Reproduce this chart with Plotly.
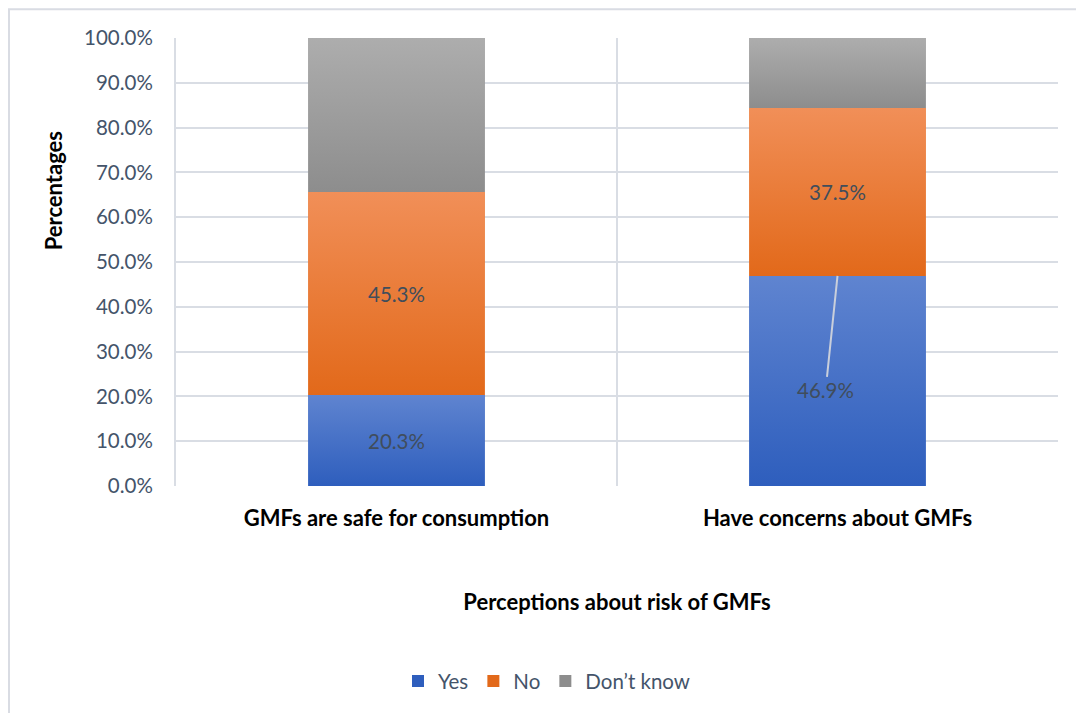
import plotly.graph_objects as go

# Survey responses (% of respondents) per perception statement
categories = ["GMFs are safe for consumption", "Have concerns about GMFs"]
series_names = ["Yes", "No", "Don\u2019t know"]
yes = [20.3, 46.9]
no = [45.3, 37.5]
dont_know = [34.4, 15.6]
y_ticks = [0, 10, 20, 30, 40, 50, 60, 70, 80, 90, 100]

# Light / dark ends of each series' vertical gradient
colors = {
    "Yes": ("#5f84d0", "#2e5ebd"),
    "No": ("#f18f58", "#e2691a"),
    "Don\u2019t know": ("#adadad", "#8d8d8d"),
}
label_series = {"Yes", "No"}

BAR_W = 0.4
FONT = "Lato"
TICK_COLOR = "#44546a"
GRID = "#d9dde4"
REG = 20.5
BOLD = 22

fig = go.Figure()
xs = list(range(len(categories)))
values = {"Yes": yes, "No": no, "Don\u2019t know": dont_know}

bases = [0.0] * len(categories)
annotations = []
for name in series_names:
    vals = values[name]
    light, dark = colors[name]
    fig.add_trace(go.Bar(
        x=xs, y=vals, base=bases, name=name, width=BAR_W,
        marker=dict(color=dark, line=dict(width=0)),
        hoverinfo="skip",
    ))
    # gradient overlay for each bar segment
    for i, (b, v) in enumerate(zip(bases, vals)):
        x0, x1 = xs[i] - BAR_W / 2, xs[i] + BAR_W / 2
        fig.add_trace(go.Scatter(
            x=[x0, x1, x1, x0, x0], y=[b, b, b + v, b + v, b],
            mode="none", fill="toself", showlegend=False, hoverinfo="skip",
            fillgradient=dict(type="vertical",
                              colorscale=[[0, dark], [1, light]]),
        ))
        if name in label_series:
            annotations.append((i, b, v))
    bases = [b + v for b, v in zip(bases, vals)]

label_font = dict(family=FONT, size=REG, color="#404d5c")
for i, b, v in annotations:
    mid = b + v / 2
    if i == 1 and b == 0:
        # label pulled down inside the bar with a leader line to its top
        fig.add_annotation(
            x=xs[i], y=b + v, xref="x", yref="y",
            ax=xs[i] - 0.027, ay=b + v * 0.455, axref="x", ayref="y",
            text=f"{v:.1f}%", showarrow=True, arrowhead=0,
            arrowwidth=2, arrowcolor="#c9cfdb", font=label_font,
        )
    else:
        fig.add_annotation(x=xs[i], y=mid, xref="x", yref="y",
                           text=f"{v:.1f}%", showarrow=False, font=label_font)

# vertical axis title, placed in the upper half like the source layout
fig.add_annotation(
    text="Percentages", xref="paper", yref="paper",
    x=(53 - 176) / 882, y=(488 - 192) / 450,
    xanchor="center", yanchor="middle", textangle=-90, showarrow=False,
    font=dict(family=FONT, size=BOLD, color="black", weight="bold"),
)

# outer chart frame
fig.add_shape(type="rect", xref="paper", yref="paper",
              x0=(9 - 176) / 882, x1=(1090 - 176) / 882,
              y0=(488 - 730) / 450, y1=(488 - 9) / 450,
              line=dict(color="#d9dce3", width=2), layer="below")

fig.update_layout(
    width=1076, height=713,
    margin=dict(l=176, r=18, t=38, b=225),
    paper_bgcolor="white", plot_bgcolor="white",
    barmode="overlay",
    font=dict(family=FONT, size=REG, color=TICK_COLOR),
    showlegend=True,
    legend=dict(orientation="h", x=(398 - 176) / 882, xanchor="left",
                y=(488 - 684) / 450, yanchor="middle",
                font=dict(family=FONT, size=REG, color=TICK_COLOR),
                traceorder="normal", itemwidth=30),
    xaxis=dict(
        range=[-0.5, 1.5], tickvals=xs, ticktext=categories,
        showgrid=False, zeroline=False, showline=False, ticks="",
        tickfont=dict(family=FONT, size=BOLD, color="black", weight="bold"),
        ticklabelstandoff=17,
        minor=dict(tickvals=[-0.5, 0.5, 1.5], showgrid=True,
                   gridcolor=GRID, gridwidth=2, ticks=""),
        title=dict(text="Perceptions about risk of GMFs", standoff=64,
                   font=dict(family=FONT, size=BOLD, color="black",
                             weight="bold")),
        fixedrange=True,
    ),
    yaxis=dict(
        range=[0, 100], tickvals=y_ticks,
        ticktext=[f"{t:.1f}%" for t in y_ticks],
        showgrid=True, gridcolor=GRID, gridwidth=2, zeroline=False,
        showline=True, linecolor=GRID, linewidth=2,
        ticks="", ticklabelstandoff=17,
        tickfont=dict(family=FONT, size=REG, color=TICK_COLOR),
        fixedrange=True,
    ),
)

fig.write_html("out.html")
